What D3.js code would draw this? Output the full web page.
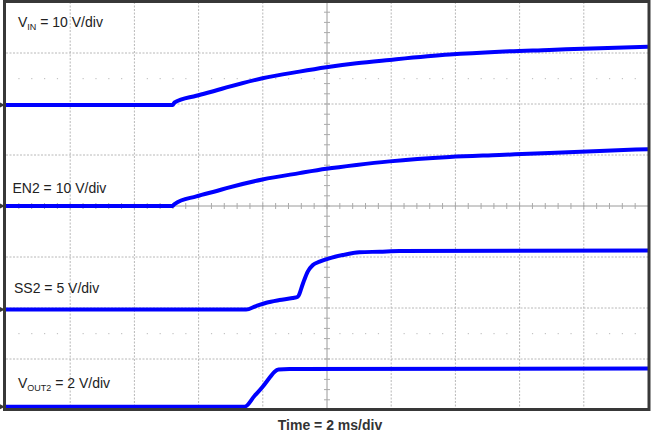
<!DOCTYPE html>
<html>
<head>
<meta charset="utf-8">
<script src="https://cdn.jsdelivr.net/npm/d3@7"></script>
<style>
html,body{margin:0;padding:0;background:#fff;}
svg{display:block;font-family:"Liberation Sans",Arial,sans-serif;}
</style>
</head>
<body>
<svg id="chart" width="651" height="435"></svg>
<script>
// Time axis: 10 divisions, 2 ms/div
const timeDivs = 10, msPerDiv = 2;
const voltDivs = 8;

// VIN (10 V/div), ground marker at +1.98 div
const vinTime = [0, 5.19, 5.25, 5.93, 6.59, 6.87, 7.99, 9.14, 9.98, 10.92, 11.95, 13.82, 15.37, 16.93, 18.49, 20];
const vinVolts = [0, 0, 0.49, 1.82, 2.94, 3.45, 5.25, 6.55, 7.4, 8.2, 8.85, 9.9, 10.45, 10.8, 11.15, 11.45];

// EN2 (10 V/div), ground marker at 0 div
const en2Time = [0, 5.19, 5.25, 5.93, 6.59, 6.87, 7.99, 9.14, 9.98, 10.92, 11.95, 13.82, 15.37, 16.93, 18.49, 20];
const en2Volts = [0, 0, 0.39, 1.9, 3.0, 3.5, 5.2, 6.45, 7.3, 8.05, 8.75, 9.6, 10.0, 10.4, 10.78, 11.15];

// SS2 (5 V/div), ground marker at -2.03 div
const ss2Time = [0, 7.48, 7.79, 8.11, 8.52, 8.93, 9.09, 9.14, 9.2, 9.3, 9.4, 9.56, 9.77, 10.07, 10.49, 11.01, 11.64, 12.26, 20];
const ss2Volts = [0, 0, 0.34, 0.67, 0.93, 1.13, 1.25, 1.52, 2.08, 2.96, 3.71, 4.36, 4.69, 5.02, 5.34, 5.61, 5.67, 5.74, 5.78];

// VOUT2 (2 V/div), ground marker at -3.935 div
const vout2Time = [0, 7.43, 7.74, 7.99, 8.21, 8.36, 8.49, 8.83, 20];
const vout2Volts = [0, 0, 0.42, 0.77, 1.13, 1.36, 1.46, 1.48, 1.5];

const channels = [
  {name: "VIN", t: vinTime, v: vinVolts, vPerDiv: 10, offset: 1.98, label: ["V", "IN", " = 10 V/div"], lx: 18, ly: 27},
  {name: "EN2", t: en2Time, v: en2Volts, vPerDiv: 10, offset: 0, label: ["EN2 = 10 V/div"], lx: 12.5, ly: 192.5},
  {name: "SS2", t: ss2Time, v: ss2Volts, vPerDiv: 5, offset: -2.03, label: ["SS2 = 5 V/div"], lx: 14, ly: 292.5},
  {name: "VOUT2", t: vout2Time, v: vout2Volts, vPerDiv: 2, offset: -3.935, label: ["V", "OUT2", " = 2 V/div"], lx: 18, ly: 388}
];
const xTitle = "Time = 2 ms/div";

const svg = d3.select("#chart");
const pL = 6, pR = 648, pT = 2, pB = 410;
const x = d3.scaleLinear().domain([0, timeDivs * msPerDiv]).range([pL, pR]);
const y = d3.scaleLinear().domain([-voltDivs / 2, voltDivs / 2]).range([pB, pT]);

svg.append("defs").append("clipPath").attr("id", "clip")
  .append("rect").attr("x", pL).attr("y", pT).attr("width", pR - pL).attr("height", pB - pT);

const grid = svg.append("g");
// dotted grid lines
const vt = d3.range(1, timeDivs).map(i => i * msPerDiv).filter(t => t !== timeDivs * msPerDiv / 2);
grid.selectAll(".vg").data(vt).join("line")
  .attr("x1", d => x(d)).attr("x2", d => x(d)).attr("y1", pT).attr("y2", pB)
  .attr("stroke", "#b8b8b8").attr("stroke-width", 1).attr("stroke-dasharray", "2,1.5");
const hd = d3.range(-voltDivs / 2 + 1, voltDivs / 2).filter(d => d !== 0);
grid.selectAll(".hg").data(hd).join("line")
  .attr("x1", pL).attr("x2", pR).attr("y1", d => y(d)).attr("y2", d => y(d))
  .attr("stroke", "#b8b8b8").attr("stroke-width", 1).attr("stroke-dasharray", "2,1.5");

// dot rows at +/-2.5 div
const minorT = d3.range(1, timeDivs * 5).map(i => i * msPerDiv / 5).filter(t => Math.abs(t / msPerDiv - Math.round(t / msPerDiv)) > 1e-6);
[2.5, -2.5].forEach(dv => {
  grid.selectAll(null).data(minorT).join("rect")
    .attr("x", d => x(d) - 0.5).attr("y", y(dv) - 0.5).attr("width", 1.2).attr("height", 1.2)
    .attr("fill", "#c4c4c4");
});

// center cross with ticks
const cx = x(timeDivs * msPerDiv / 2), cy = y(0);
grid.append("line").attr("x1", cx).attr("x2", cx).attr("y1", pT).attr("y2", pB).attr("stroke", "#9a9a9a");
grid.append("line").attr("x1", pL).attr("x2", pR).attr("y1", cy).attr("y2", cy).attr("stroke", "#9a9a9a");
const tickT = d3.range(1, timeDivs * 5).map(i => i * msPerDiv / 5);
grid.selectAll(".tx").data(tickT).join("line")
  .attr("x1", d => x(d)).attr("x2", d => x(d)).attr("y1", cy - 3).attr("y2", cy + 3)
  .attr("stroke", "#aaa");
const tickV = d3.range(1, voltDivs * 5).map(i => -voltDivs / 2 + i / 5);
grid.selectAll(".ty").data(tickV).join("line")
  .attr("x1", cx - 3).attr("x2", cx + 3).attr("y1", d => y(d)).attr("y2", d => y(d))
  .attr("stroke", "#aaa");

// traces
const traces = svg.append("g").attr("clip-path", "url(#clip)");
channels.forEach(ch => {
  const pts = ch.t.map((t, i) => [t, ch.v[i] / ch.vPerDiv + ch.offset]);
  traces.append("path")
    .attr("d", d3.line().curve(d3.curveMonotoneX).x(d => x(d[0])).y(d => y(d[1]))(pts))
    .attr("fill", "none").attr("stroke", "#0000ff").attr("stroke-width", 4)
    .attr("stroke-linejoin", "round");
});

// frame
svg.append("rect").attr("x", 4.5).attr("y", 1.5).attr("width", 644.5).attr("height", 408)
  .attr("fill", "none").attr("stroke", "#383838").attr("stroke-width", 3);

// ground markers
channels.forEach(ch => {
  const gy = y(ch.offset);
  svg.append("path").attr("d", `M0,${gy - 2.5}L5,${gy}L0,${gy + 2.5}Z`).attr("fill", "#383838");
});

// labels
channels.forEach(ch => {
  const t = svg.append("text").attr("x", ch.lx).attr("y", ch.ly)
    .attr("font-size", 14).attr("fill", "#222");
  if (ch.label.length === 1) {
    t.text(ch.label[0]);
  } else {
    t.append("tspan").text(ch.label[0]);
    t.append("tspan").attr("font-size", 9).attr("dy", 3).text(ch.label[1]);
    t.append("tspan").attr("dy", -3).text(ch.label[2]);
  }
});

svg.append("text").attr("x", 330).attr("y", 430).attr("text-anchor", "middle")
  .attr("font-size", 14).attr("font-weight", "bold").attr("fill", "#333").text(xTitle);
</script>
</body>
</html>
